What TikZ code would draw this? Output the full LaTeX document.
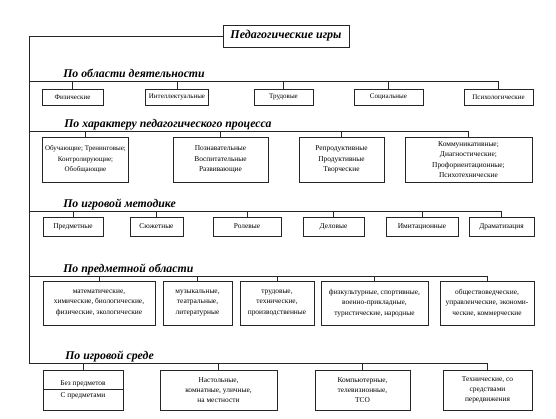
\documentclass[tikz,border=0pt]{standalone}
\usepackage{fontspec}
\setmainfont{Liberation Serif}
\usepackage{tikz}

\begin{document}
\begin{tikzpicture}[x=1pt, y=-1pt, line width=0.6pt, draw=black!85,
  cell/.style={draw, align=center, inner sep=1pt, font=\fontsize{7.4}{10.3}\selectfont},
  small/.style={font=\fontsize{7}{10.3}\selectfont},
  head/.style={anchor=base west, inner sep=0pt, font=\fontsize{11.8}{13}\selectfont\bfseries\itshape}]
\useasboundingbox (0,0) rectangle (556,418);
\node[draw, minimum width=126pt, minimum height=22pt, inner sep=1pt, font=\fontsize{12}{13}\selectfont\bfseries\itshape] (title) at (286,36) {Педагогические игры};

% по области деятельности
\node[head] (h1) at (63,77) {По области деятельности};
\node[cell, small, minimum width=61pt, minimum height=16pt] (f1) at (72.5,97) {Физические};
\node[cell, small, minimum width=63pt, minimum height=16pt] (f2) at (177,97) {Интеллектуальные};
\node[cell, small, minimum width=59pt, minimum height=16pt] (f3) at (283.5,97) {Трудовые};
\node[cell, small, minimum width=69pt, minimum height=16pt] (f4) at (388.5,97) {Социальные};
\node[cell, small, minimum width=69pt, minimum height=16pt] (f5) at (498.5,97) {Психологические};

% по характеру педагогического процесса
\node[head] (h2) at (64,127) {По характеру педагогического процесса};
\node[cell, small, minimum width=86pt, minimum height=45pt] (p1) at (85.5,159.5) {Обучающие; Тренинговые;\\ Контролирующие;\\ Обобщающие};
\node[cell, minimum width=95pt, minimum height=45pt] (p2) at (220.5,159.5) {Познавательные\\ Воспитательные\\ Развивающие};
\node[cell, minimum width=85pt, minimum height=45pt] (p3) at (341.5,159.5) {Репродуктивные\\ Продуктивные\\ Творческие};
\node[cell, minimum width=127pt, minimum height=45pt] (p4) at (468.5,159.5) {Коммуникативные;\\ Диагностические;\\ Профориентационные;\\ Психотехнические};

% по игровой методике
\node[head] (h3) at (63,207) {По игровой методике};
\node[cell, minimum width=60pt, minimum height=19pt] (m1) at (73,226.5) {Предметные};
\node[cell, minimum width=53pt, minimum height=19pt] (m2) at (156.5,226.5) {Сюжетные};
\node[cell, minimum width=68pt, minimum height=19pt] (m3) at (247,226.5) {Ролевые};
\node[cell, minimum width=61pt, minimum height=19pt] (m4) at (333.5,226.5) {Деловые};
\node[cell, minimum width=72pt, minimum height=19pt] (m5) at (422,226.5) {Имитационные};
\node[cell, minimum width=65pt, minimum height=19pt] (m6) at (501.5,226.5) {Драматизация};

% по предметной области
\node[head] (h4) at (63,272) {По предметной области};
\node[cell, minimum width=112pt, minimum height=44pt] (o1) at (99,303) {математические,\\ химические, биологические,\\ физические, экологические};
\node[cell, minimum width=69pt, minimum height=44pt] (o2) at (197.5,303) {музыкальные,\\ театральные,\\ литературные};
\node[cell, minimum width=74pt, minimum height=44pt] (o3) at (277,303) {трудовые,\\ технические,\\ производственные};
\node[cell, minimum width=107pt, minimum height=44pt] (o4) at (374.5,303) {физкультурные, спортивные,\\ военно-прикладные,\\ туристические, народные};
\node[cell, minimum width=94pt, minimum height=44pt] (o5) at (487,303) {обществоведческие,\\ управленческие, экономи-\\ ческие, коммерческие};

% по игровой среде
\node[head] (h5) at (65,359) {По игровой среде};
\node[cell, minimum width=80pt, minimum height=40pt, font=\fontsize{7.4}{12}\selectfont] (e1) at (83,390) {Без предметов\\ С предметами};
\node[cell, minimum width=117pt, minimum height=40pt] (e2) at (218.5,390) {Настольные,\\ комнатные, уличные,\\ на местности};
\node[cell, minimum width=95pt, minimum height=40pt] (e3) at (362.5,390) {Компьютерные,\\ телевизионные,\\ ТСО};
\node[cell, minimum width=89pt, minimum height=40pt] (e4) at (487.5,390) {Технические, со\\ средствами\\ передвижения};
\draw ([yshift=0.5pt]e1.west) -- ([yshift=0.5pt]e1.east);

% ствол и ветви
\coordinate (s1) at (29,81);
\coordinate (s2) at (29,131);
\coordinate (s3) at (29,211);
\coordinate (s4) at (29,276);
\coordinate (s5) at (29,363);
\draw (title.west) -| (s5);
\draw (s1) -- (s1 -| f5.north) (f1.north) -- (f1.north |- s1) (f2.north) -- (f2.north |- s1)
  (f3.north) -- (f3.north |- s1) (f4.north) -- (f4.north |- s1) (f5.north) -- (f5.north |- s1);
\draw (s2) -- (s2 -| p4.north) (p1.north) -- (p1.north |- s2) (p2.north) -- (p2.north |- s2)
  (p3.north) -- (p3.north |- s2) (p4.north) -- (p4.north |- s2);
\draw (s3) -- (s3 -| m6.north) (m1.north) -- (m1.north |- s3) (m2.north) -- (m2.north |- s3)
  (m3.north) -- (m3.north |- s3) (m4.north) -- (m4.north |- s3) (m5.north) -- (m5.north |- s3)
  (m6.north) -- (m6.north |- s3);
\draw (s4) -- (s4 -| o5.north) (o1.north) -- (o1.north |- s4) (o2.north) -- (o2.north |- s4)
  (o3.north) -- (o3.north |- s4) (o4.north) -- (o4.north |- s4) (o5.north) -- (o5.north |- s4);
\draw (s5) -- (s5 -| e4.north) (e1.north) -- (e1.north |- s5) (e2.north) -- (e2.north |- s5)
  (e3.north) -- (e3.north |- s5) (e4.north) -- (e4.north |- s5);
\end{tikzpicture}
\end{document}
